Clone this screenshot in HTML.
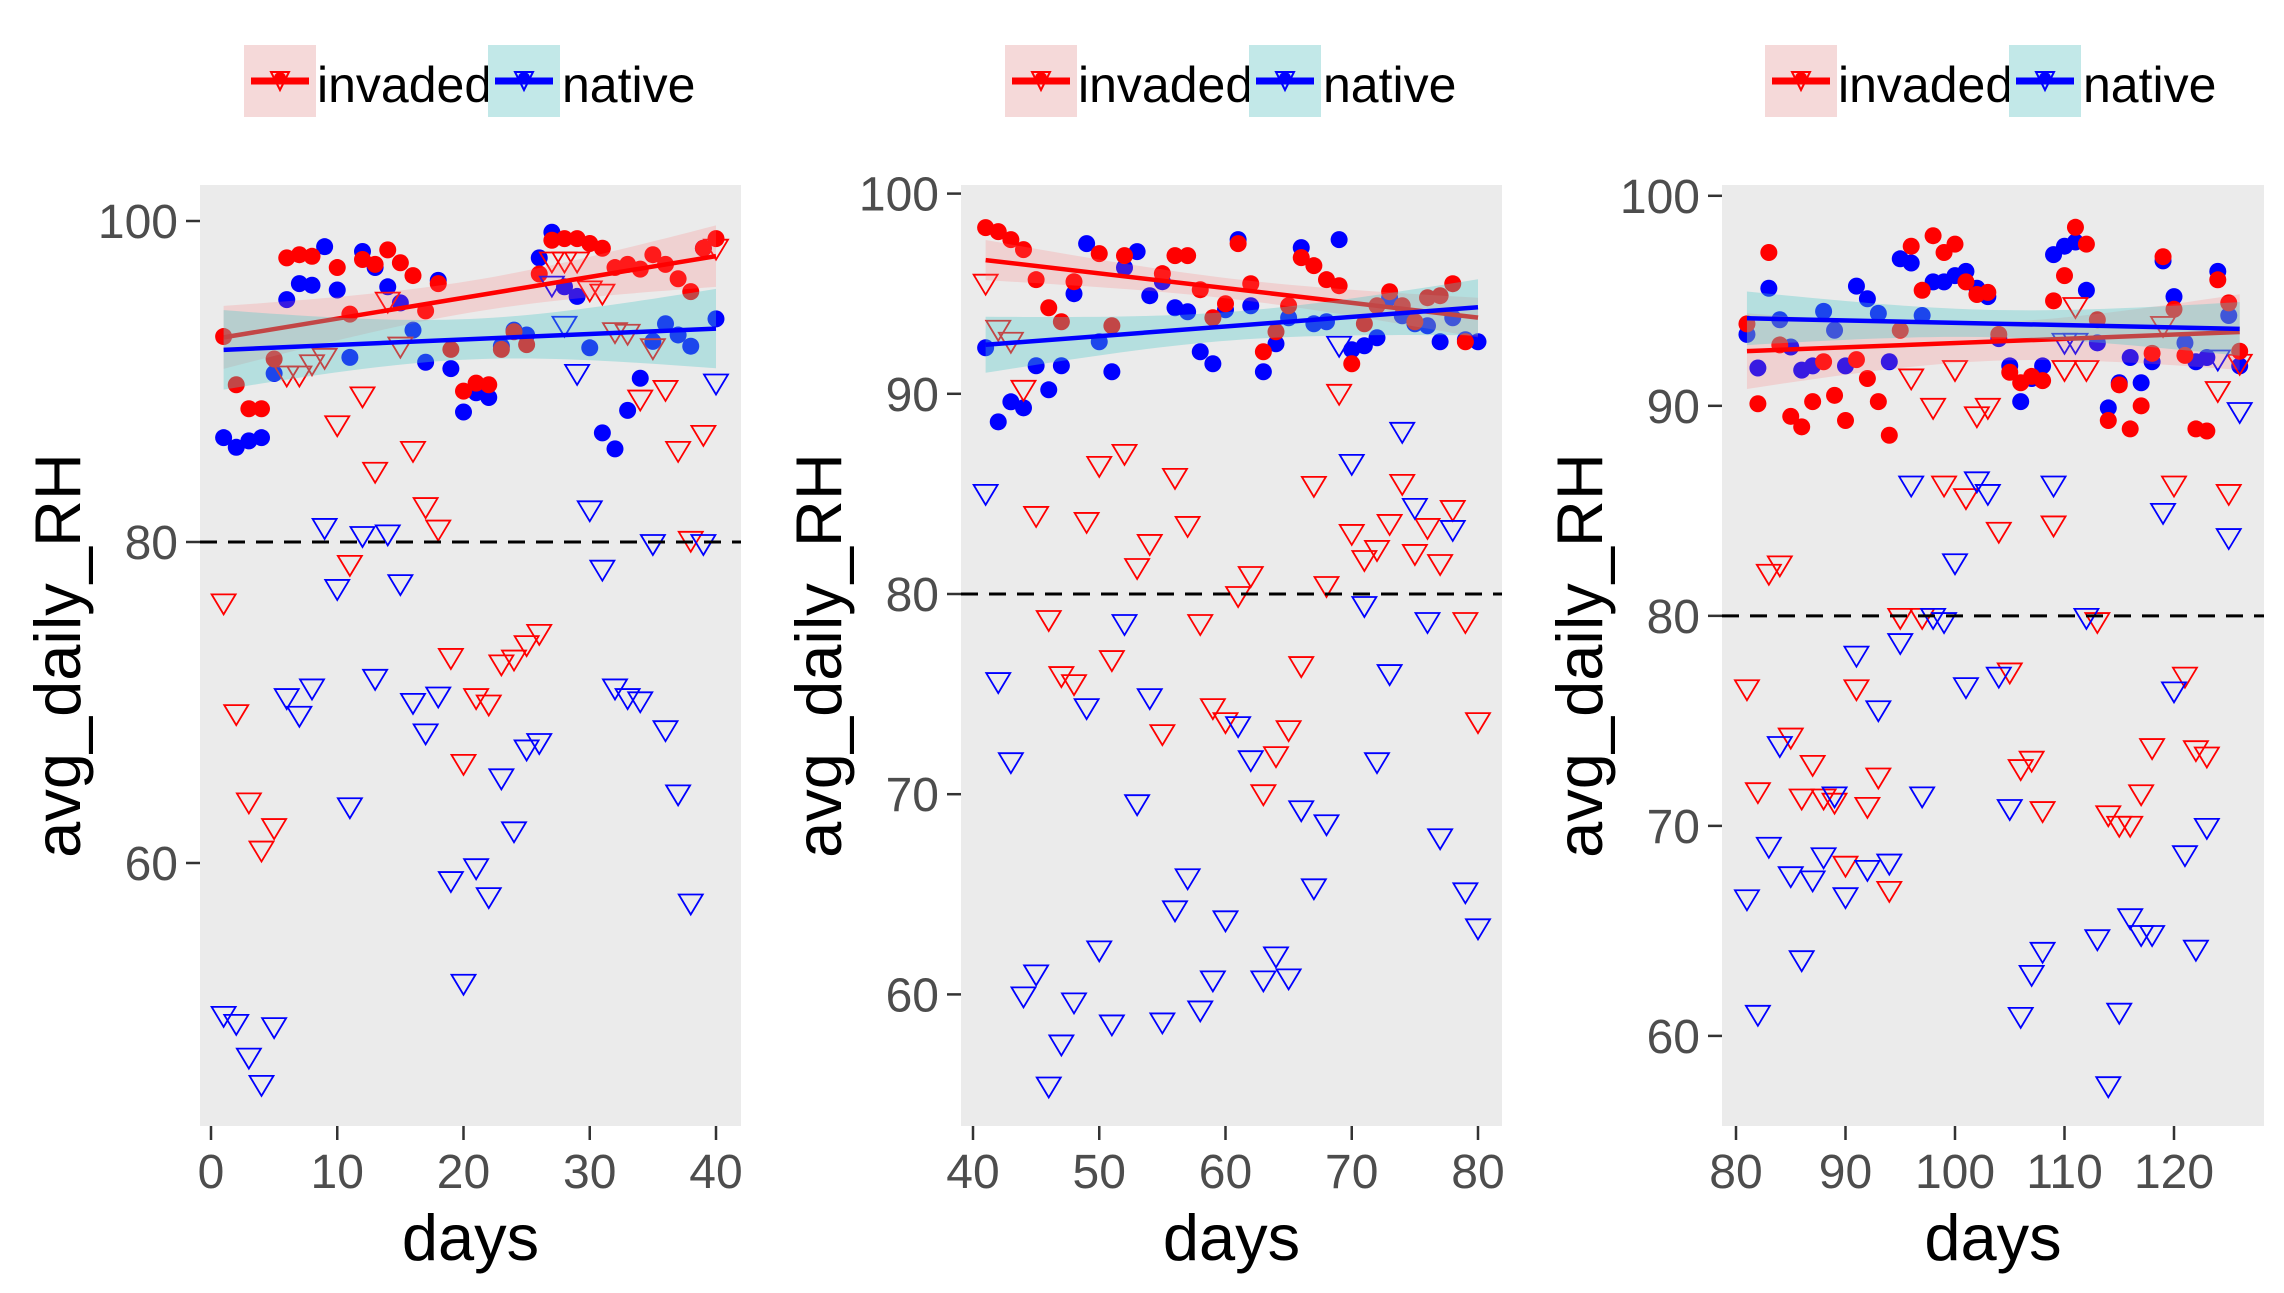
<!DOCTYPE html>
<html><head><meta charset="utf-8"><style>
html,body{margin:0;padding:0;background:#fff;}
svg{display:block;font-family:"Liberation Sans",Arial,sans-serif;}
</style></head><body>
<svg id="chart" width="2284" height="1293" viewBox="0 0 2284 1293" xmlns="http://www.w3.org/2000/svg"></svg>
<script>
// ---------- Panel 1 data (days 1..40) ----------
const days1 = Array.from({length:40},(_,i)=>i+1);
const invCirc1 = [92.8,89.8,88.3,88.3,91.4,97.7,97.9,97.8,null,97.1,94.2,97.6,97.3,98.2,97.4,96.6,94.4,96.1,92.0,89.4,89.9,89.8,92.0,93.1,92.3,96.7,98.8,98.9,98.9,98.6,98.3,97.1,97.3,97.0,97.9,97.3,96.4,95.6,98.3,98.9];
const natCirc1 = [86.5,85.9,86.3,86.5,90.5,95.1,96.1,96.0,98.4,95.7,91.5,98.1,97.1,95.9,94.9,93.2,91.2,96.3,90.8,88.1,89.3,89.0,92.2,93.2,92.9,97.7,99.3,95.9,95.3,92.1,86.8,85.8,88.2,90.2,92.5,93.6,92.9,92.2,98.3,93.9];
const invTri1 = [76.3,69.4,63.9,60.9,62.3,90.5,90.5,91.2,91.6,87.4,78.7,89.2,84.5,95.1,92.3,85.8,82.3,80.9,72.9,66.3,70.4,70.0,72.5,72.8,73.7,74.4,97.6,97.6,97.6,95.8,95.6,93.2,93.1,89.0,92.2,89.6,85.8,80.2,86.8,98.4];
const natTri1 = [50.6,50.1,48.0,46.3,49.9,70.4,69.3,71.0,81.0,77.2,63.6,80.5,71.6,80.6,77.5,70.1,68.2,70.5,59.0,52.6,59.8,58.0,65.4,62.1,67.2,67.6,96.1,93.6,90.6,82.1,78.4,71.0,70.4,70.2,80.0,68.4,64.4,57.6,80.0,90.0];
const xTicks1 = [0,10,20,30,40];
const yTicks1 = [60,80,100];
// ---------- Panel 2 data (days 41..80) ----------
const days2 = Array.from({length:40},(_,i)=>i+41);
const invCirc2 = [98.3,98.1,97.7,97.2,95.7,94.3,93.6,95.6,null,97.0,93.4,96.9,null,null,96.0,96.9,96.9,95.2,93.8,94.5,97.5,95.5,92.1,93.1,94.4,96.8,96.4,95.7,95.4,91.5,93.5,94.4,95.1,94.4,93.6,94.8,94.9,95.5,92.6,null];
const natCirc2 = [92.3,88.6,89.6,89.3,91.4,90.2,91.4,95.0,97.5,92.6,91.1,96.3,97.1,94.9,95.6,94.3,94.1,92.1,91.5,94.2,97.7,94.4,91.1,92.5,93.8,97.3,93.5,93.6,97.7,92.2,92.4,92.8,94.8,93.9,93.5,93.4,92.6,93.8,92.7,92.6];
const invTri2 = [95.6,93.3,92.7,90.3,84.0,78.8,76.0,75.6,83.7,86.5,76.8,87.1,81.4,82.6,73.1,85.9,83.5,78.6,74.4,73.7,80.0,81.0,70.1,72.0,73.3,76.5,85.5,80.5,90.1,83.1,81.8,82.3,83.6,85.6,82.1,83.4,81.6,84.3,78.7,73.7];
const natTri2 = [85.1,75.7,71.7,60.0,61.1,55.5,57.6,59.7,74.4,62.3,58.6,78.6,69.6,74.9,58.7,64.3,65.9,59.3,60.8,63.8,73.5,71.8,60.8,62.0,60.9,69.3,65.4,68.6,92.5,86.6,79.5,71.7,76.1,88.2,84.4,78.7,67.9,83.3,65.2,63.4];
const xTicks2 = [40,50,60,70,80];
const yTicks2 = [60,70,80,90,100];
// ---------- Panel 3 data (days 81..126) ----------
const days3 = Array.from({length:46},(_,i)=>i+81);
const invCirc3 = [93.9,90.1,97.3,92.9,89.5,89.0,90.2,92.1,90.5,89.3,92.2,91.3,90.2,88.6,93.6,97.6,95.5,98.1,97.3,97.7,95.9,95.3,95.4,93.4,91.6,91.1,91.4,91.2,95.0,96.2,98.5,97.7,94.1,89.3,91.0,88.9,90.0,92.5,97.1,94.6,92.4,88.9,88.8,96.0,94.9,92.6];
const natCirc3 = [93.4,91.8,95.6,94.1,92.8,91.7,91.9,94.5,93.6,91.9,95.7,95.1,94.4,92.1,97.0,96.8,94.3,95.9,95.9,96.2,96.4,95.6,95.2,93.2,91.9,90.2,91.3,91.9,97.2,97.6,97.8,95.5,93.0,89.9,91.1,92.3,91.1,92.1,96.9,95.2,93.0,92.1,92.3,96.4,94.3,91.9];
const invTri3 = [76.6,71.7,82.1,82.5,74.3,71.4,73.0,71.4,71.2,68.2,76.6,71.0,72.4,67.0,80.0,91.4,80.0,90.0,86.3,91.8,85.7,89.6,90.0,84.1,77.4,72.8,73.2,70.8,84.4,91.8,94.8,91.8,79.8,70.6,70.1,70.1,71.6,73.8,93.9,86.3,77.2,73.7,73.4,90.8,85.9,92.1];
const natTri3 = [66.6,61.1,69.1,73.9,67.7,63.7,67.5,68.6,71.5,66.7,78.2,68.0,75.6,68.3,78.8,86.3,71.5,80.0,79.8,82.6,76.7,86.5,85.9,77.2,70.9,61.0,63.0,64.1,86.3,93.1,93.1,80.0,64.7,57.7,61.2,65.7,64.9,64.9,85.0,76.5,68.7,64.2,70.0,92.3,83.8,89.8];
const xTicks3 = [80,90,100,110,120];
const yTicks3 = [60,70,80,90,100];

const NS="http://www.w3.org/2000/svg";
const svg=document.getElementById('chart');
function mk(tag,attrs,parent){const e=document.createElementNS(NS,tag);for(const k in attrs)e.setAttribute(k,attrs[k]);(parent||svg).appendChild(e);return e;}
function linScale(d0,d1,r0,r1){return v=>r0+(v-d0)*(r1-r0)/(d1-d0);}

function fit(xs,ys){
  const p=[];xs.forEach((x,i)=>{if(ys[i]!=null)p.push([x,ys[i]]);});
  const n=p.length;const mx=p.reduce((s,q)=>s+q[0],0)/n,my=p.reduce((s,q)=>s+q[1],0)/n;
  let sxx=0,sxy=0;p.forEach(q=>{sxx+=(q[0]-mx)**2;sxy+=(q[0]-mx)*(q[1]-my);});
  const b=sxy/sxx,a=my-b*mx;let sse=0;p.forEach(q=>{sse+=(q[1]-a-b*q[0])**2;});
  const s=Math.sqrt(sse/(n-2));
  return {a,b,se:x=>2.02*s*Math.sqrt(1/n+(x-mx)**2/sxx)};
}

const panels=[
 {days:days1,ic:invCirc1,nc:natCirc1,it:invTri1,nt:natTri1,xt:xTicks1,yt:yTicks1,
  left:200,right:741,top:185,bottom:1126,xd:[0,40],xr:[211,716],yd:[60,100],yr:[863,221],off:0},
 {days:days2,ic:invCirc2,nc:natCirc2,it:invTri2,nt:natTri2,xt:xTicks2,yt:yTicks2,
  left:961,right:1502,top:185,bottom:1126,xd:[40,80],xr:[973,1478],yd:[60,100],yr:[994.4,193.6],off:761},
 {days:days3,ic:invCirc3,nc:natCirc3,it:invTri3,nt:natTri3,xt:xTicks3,yt:yTicks3,
  left:1722,right:2264,top:185,bottom:1126,xd:[80,120],xr:[1736,2174],yd:[60,100],yr:[1035.9,195.8],off:1521}
];

panels.forEach((P,pi)=>{
  const g=mk('g',{});
  
  
  const X=linScale(P.xd[0],P.xd[1],P.xr[0],P.xr[1]);
  const Y=linScale(P.yd[0],P.yd[1],P.yr[0],P.yr[1]);
  const bg=mk('rect',{x:P.left,y:P.top,width:P.right-P.left,height:P.bottom-P.top,fill:'#ebebeb'},g);
  
  
  P.yt.forEach(t=>{
    const y=Y(t);
    const tk=mk('line',{x1:P.left-14,x2:P.left,y1:y,y2:y,stroke:'#333','stroke-width':2.5},g);
    
    
    const tx=mk('text',{x:P.left-22,y:y+17,'text-anchor':'end','font-size':48,fill:'#4d4d4d'},g);
    tx.textContent=t;
    
    
  });
  P.xt.forEach(t=>{
    const x=X(t);
    const tk=mk('line',{x1:x,x2:x,y1:P.bottom,y2:P.bottom+14,stroke:'#333','stroke-width':2.5},g);
    
    
    const tx=mk('text',{x:x,y:P.bottom+62,'text-anchor':'middle','font-size':48,fill:'#4d4d4d'},g);
    tx.textContent=t;
    
    
  });
  const xt=mk('text',{x:(P.left+P.right)/2,y:1260,'text-anchor':'middle','font-size':65,fill:'#000'},g);
  xt.textContent='days';
  
  
  const ytx=P.left-120, ycy=(P.top+P.bottom)/2;
  const yt=mk('text',{x:ytx,y:ycy,'text-anchor':'middle','font-size':65,fill:'#000',transform:`rotate(-90 ${ytx} ${ycy})`},g);
  yt.textContent='avg_daily_RH';
  
  

  function circles(arr,col,name){
    P.days.forEach((d,i)=>{if(arr[i]==null)return;
      const c=mk('circle',{cx:X(d),cy:Y(arr[i]),r:8.5,fill:col},g);
      
      
    });
  }
  function tris(arr,col,name){
    P.days.forEach((d,i)=>{if(arr[i]==null)return;
      const x=X(d),y=Y(arr[i]);
      const t=mk('polygon',{points:`${x-12},${y-7} ${x+12},${y-7} ${x},${y+13}`,fill:'none',stroke:col,'stroke-width':1.8},g);
      
      
    });
  }
  circles(P.nc,'#0000ff','native-circle-point');
  circles(P.ic,'#ff0000','invaded-circle-point');
  tris(P.it,'#ff0000','invaded-triangle-point');
  tris(P.nt,'#0000ff','native-triangle-point');

  const x0=P.days[0],x1=P.days[P.days.length-1];
  [[P.ic,'#ff0000','rgba(255,120,120,0.22)','invaded'],[P.nc,'#0000ff','rgba(80,200,200,0.35)','native']].forEach(([arr,col,fill,nm])=>{
    const f=fit(P.days,arr);const up=[],lo=[];
    for(let k=0;k<=40;k++){const x=x0+(x1-x0)*k/40;const m=f.a+f.b*x;const e=f.se(x);
      up.push(X(x)+','+Y(m+e));lo.unshift(X(x)+','+Y(m-e));}
    const rb=mk('polygon',{points:up.concat(lo).join(' '),fill:fill},g);
    
    
    const ln=mk('line',{x1:X(x0),y1:Y(f.a+f.b*x0),x2:X(x1),y2:Y(f.a+f.b*x1),stroke:col,'stroke-width':4.5},g);
    
    
  });
  const hl=mk('line',{x1:P.left,x2:P.right,y1:Y(80),y2:Y(80),stroke:'#000','stroke-width':3,'stroke-dasharray':'17 11'},g);
  
  

  const lg=mk('g',{transform:`translate(${P.off},0)`},g);
  
  
  [[244,'#f5d9d9','#ff0000','invaded',317],[488,'#c2e8e8','#0000ff','native',562]].forEach(([kx,bgc,col,lab,tx])=>{
    const e=mk('g',{},lg);
    
    
    mk('rect',{x:kx,y:45,width:72,height:72,fill:bgc},e);
    mk('line',{x1:kx+7,x2:kx+65,y1:81,y2:81,stroke:col,'stroke-width':7},e);
    mk('circle',{cx:kx+36,cy:78,r:6,fill:col},e);
    mk('polygon',{points:`${kx+27},72 ${kx+45},72 ${kx+36},90`,fill:'none',stroke:col,'stroke-width':2},e);
    const t=mk('text',{x:tx,y:102,'font-size':50,fill:'#000'},e);
    t.textContent=lab;
  });
});
</script>
</body></html>
